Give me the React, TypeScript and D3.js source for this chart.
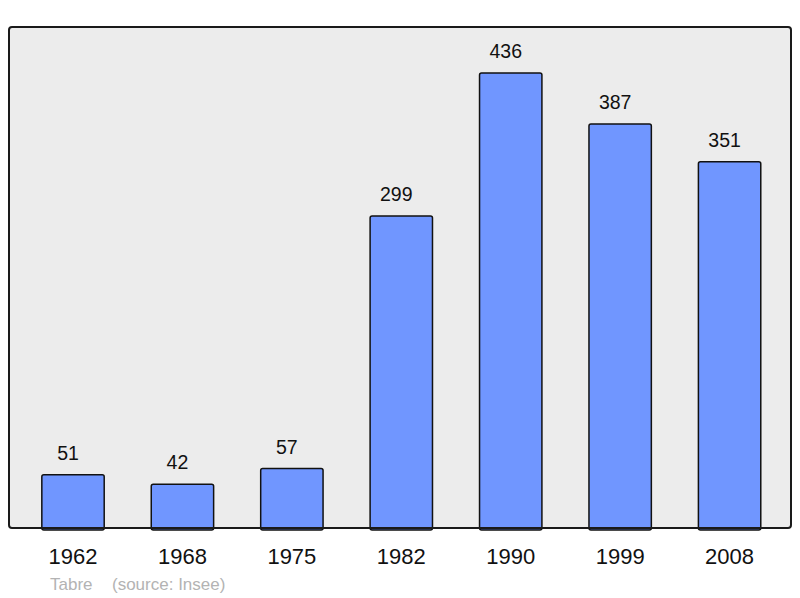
import * as React from "react"
import { select, scaleBand, scaleLinear } from "d3"

const years = ["1962", "1968", "1975", "1982", "1990", "1999", "2008"]
const population = [51, 42, 57, 299, 436, 387, 351]
const placeName = "Tabre"
const sourceText = "(source: Insee)"

function PopulationChart() {
  const svgRef = React.useRef<SVGSVGElement>(null)

  const width = 800
  const height = 598
  const panel = { left: 9, top: 27, right: 791, bottom: 528 }

  React.useEffect(() => {
    const svg = select(svgRef.current)
    svg.selectAll("*").remove()

    const x = scaleBand<string>()
      .domain(years)
      .range([18.3, 784.3])
      .paddingInner(0.43)
      .paddingOuter(0.215)

    const y = scaleLinear().domain([0, 480]).range([panel.bottom, panel.top])

    const font = "'Liberation Sans', Arial, sans-serif"

    svg
      .append("rect")
      .attr("x", panel.left)
      .attr("y", panel.top)
      .attr("width", panel.right - panel.left)
      .attr("height", panel.bottom - panel.top)
      .attr("rx", 3)
      .attr("fill", "#ececec")
      .attr("stroke", "none")

    const bars = svg.append("g")
    years.forEach((yr, i) => {
      const cx = x(yr)! + x.bandwidth() / 2
      bars
        .append("rect")
        .attr("x", x(yr)!)
        .attr("y", y(population[i]))
        .attr("width", x.bandwidth())
        .attr("height", y(0) - y(population[i]) + 2)
        .attr("rx", 2)
        .attr("fill", "#7096ff")
        .attr("stroke", "#111")
        .attr("stroke-width", 1.5)

      // value labels sit a little left of the bar centre in the original
      bars
        .append("text")
        .attr("x", cx - 5)
        .attr("y", y(population[i]) - 15)
        .attr("text-anchor", "middle")
        .attr("font-family", font)
        .attr("font-size", 19.5)
        .attr("fill", "#111")
        .text(population[i])

      svg
        .append("text")
        .attr("x", cx)
        .attr("y", 564)
        .attr("text-anchor", "middle")
        .attr("font-family", font)
        .attr("font-size", 22)
        .attr("fill", "#111")
        .text(yr)
    })

    // frame drawn over the bar bottoms
    svg
      .append("rect")
      .attr("x", panel.left)
      .attr("y", panel.top)
      .attr("width", panel.right - panel.left)
      .attr("height", panel.bottom - panel.top)
      .attr("rx", 3)
      .attr("fill", "none")
      .attr("stroke", "#1a1a1a")
      .attr("stroke-width", 2)

    svg
      .append("text")
      .attr("x", 50)
      .attr("y", 590)
      .attr("font-family", font)
      .attr("font-size", 17)
      .attr("fill", "#b3b3b3")
      .text(placeName)

    svg
      .append("text")
      .attr("x", 112)
      .attr("y", 590)
      .attr("font-family", font)
      .attr("font-size", 17)
      .attr("fill", "#b3b3b3")
      .text(sourceText)
  }, [])

  return (
    <svg
      ref={svgRef}
      width={width}
      height={height}
      style={{ position: "absolute", left: 0, top: 0, background: "#fff" }}
    ></svg>
  )
}

export default function App() {
  return <PopulationChart />
}
